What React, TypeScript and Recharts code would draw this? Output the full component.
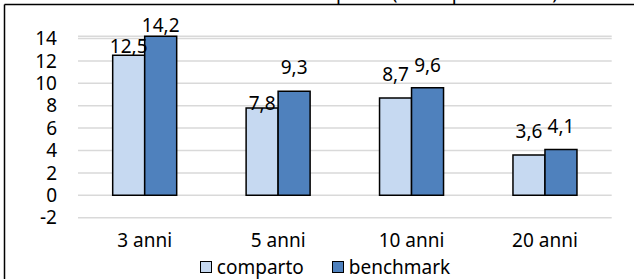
import { Bar, BarChart, CartesianGrid, LabelList, Legend, XAxis, YAxis } from "recharts";

const periods = ["3 anni", "5 anni", "10 anni", "20 anni"];
const comparto = [12.5, 7.8, 8.7, 3.6];
const benchmark = [14.2, 9.3, 9.6, 4.1];
const yTicks = [-2, 0, 2, 4, 6, 8, 10, 12, 14];

const chartData = periods.map((period, i) => ({
  period,
  comparto: comparto[i],
  benchmark: benchmark[i]
}));

const FONT = "'Noto Sans', sans-serif";
const LIGHT = "#c6d9f1";
const DARK = "#4f81bd";

// gap in px between value label baseline and bar top (Excel labels were nudged by hand)
const compartoLabelGap = [2, -2, 17, 17];
const benchmarkLabelGap = [4, 17, 16, 16];

function makeLabel(values: number[], gaps: number[]) {
  return (props: any) => {
    const { x, y, width, value } = props;
    const idx = props.index ?? values.indexOf(Number(value));
    const gap = gaps[idx] ?? 16;
    return (
      <text
        x={Number(x) + Number(width) / 2}
        y={Number(y) - gap}
        textAnchor="middle"
        fontFamily={FONT}
        fontSize={19}
        fill="#000"
      >
        {String(value).replace(".", ",")}
      </text>
    );
  };
}

function ChartLegend() {
  const item = (color: string, label: string) => (
    <div style={{ display: "flex", alignItems: "center" }}>
      <span
        style={{
          display: "inline-block",
          width: 10,
          height: 10,
          border: "1.5px solid #000",
          background: color,
          marginRight: 5
        }}
      />
      <span>{label}</span>
    </div>
  );
  return (
    <div
      style={{
        height: 20,
        lineHeight: "20px",
        display: "flex",
        justifyContent: "center",
        gap: 28,
        paddingLeft: 16,
        fontFamily: FONT,
        fontSize: 19,
        color: "#000"
      }}
    >
      {item(LIGHT, "comparto")}
      {item(DARK, "benchmark")}
    </div>
  );
}

export default function App() {
  return (
    <div
      style={{
        position: "fixed",
        top: 0,
        left: 0,
        width: 634,
        height: 279,
        overflow: "hidden",
        background: "#fff"
      }}
    >
      <BarChart
        width={634}
        height={279}
        data={chartData}
        margin={{ top: 36.3, right: 22.3, left: 0, bottom: 2 }}
        barCategoryGap="26%"
        barGap={0}
      >
        <CartesianGrid vertical={false} stroke="#d9d9d9" strokeWidth={1.5} />
        <XAxis
          dataKey="period"
          axisLine={false}
          tickLine={false}
          tickSize={0}
          tickMargin={16}
          height={39.3}
          tick={{ fontFamily: FONT, fontSize: 19, fill: "#000" }}
        />
        <YAxis
          width={78}
          domain={[-2, (dataMax: number) => Math.max(14, dataMax)]}
          ticks={yTicks}
          interval={0}
          axisLine={false}
          tickLine={false}
          tickSize={0}
          tickMargin={21}
          tick={{ fontFamily: FONT, fontSize: 19, fill: "#000" }}
        />
        <Legend verticalAlign="bottom" wrapperStyle={{ left: 0, width: 634 }} content={() => <ChartLegend />} />
        <Bar dataKey="comparto" fill={LIGHT} stroke="#000" strokeWidth={1.5} isAnimationActive={false}>
          <LabelList dataKey="comparto" content={makeLabel(comparto, compartoLabelGap)} />
        </Bar>
        <Bar dataKey="benchmark" fill={DARK} stroke="#000" strokeWidth={1.5} isAnimationActive={false}>
          <LabelList dataKey="benchmark" content={makeLabel(benchmark, benchmarkLabelGap)} />
        </Bar>
      </BarChart>
      <svg
        width={634}
        height={279}
        style={{ position: "absolute", top: 0, left: 0, pointerEvents: "none" }}
      >
        <text x={558} y={-1} textAnchor="end" fontFamily={FONT} fontSize={19} fill="#000">
          Rendimento medio annuo composto (valori percentuali)
        </text>
        <line x1={4.5} y1={4.5} x2={634} y2={4.5} stroke="#000" strokeWidth={1.5} />
        <line x1={4.5} y1={4.5} x2={4.5} y2={279} stroke="#000" strokeWidth={1.5} />
      </svg>
    </div>
  );
}
